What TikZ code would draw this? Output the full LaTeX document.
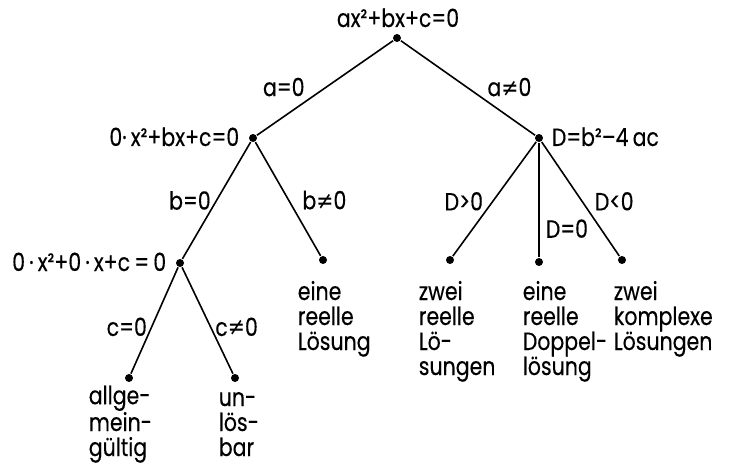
\documentclass[tikz,border=0pt]{standalone}
\usepackage{fontspec}
\setmainfont{Poppins}[FakeStretch=0.82,FakeBold=0.3]
\newfontfamily\symfont{DejaVu Sans}[FakeStretch=0.82]
\newcommand{\ungl}{{\symfont ≠}}

\begin{document}
\begin{tikzpicture}[x=1pt,y=-1pt,line width=1.6pt,
		font=\fontsize{25}{25}\selectfont,
		dot/.style={circle,fill,inner sep=0pt,minimum size=8pt},
		leaf/.style={inner sep=0pt,align=left,anchor=base west}]
		\useasboundingbox (0,0) rectangle (734,468);

		% Knoten
		\draw (397,38) node[dot] (R) {};
		\draw (253,138) node[dot] (L) {};
		\draw (539,138) node[dot] (D) {};
		\draw (180,263) node[dot] (B) {};
		\draw (323,260) node[dot] (Bn) {};
		\draw (450,260) node[dot] (Dp) {};
		\draw (539,262) node[dot] (Dz) {};
		\draw (622,260) node[dot] (Dm) {};
		\draw (129,378) node[dot] (C) {};
		\draw (235,378) node[dot] (Cn) {};

		% Gleichungen
		\draw (398,27) node[inner sep=0pt,anchor=base] {ax²+bx+c=0};
		\draw (240,146) node[inner sep=0pt,anchor=base east] {0·\,x²+bx+c=0};
		\draw (551,146) node[inner sep=0pt,anchor=base west] {D=b²–4\,ac};
		\draw (167,271) node[inner sep=0pt,anchor=base east] {0\,·\,x²+0\,·\,x+c\,=\,0};

		% Ergebnisse (base = letzte Zeile)
		\draw (297,350) node[leaf] {eine\\reelle\\Lösung};
		\draw (418,375) node[leaf] {zwei\\reelle\\Lö-\\sungen};
		\draw (522,375) node[leaf] {eine\\reelle\\Doppel-\\lösung};
		\draw (613,350) node[leaf] {zwei\\komplexe\\Lösungen};
		\draw (88,456) node[leaf] {allge-\\mein-\\gültig};
		\draw (218,456) node[leaf] {un-\\lös-\\bar};

		\path[every node/.style={inner sep=0pt}]
		(R) edge node[pos=.49,anchor=east,xshift=-21] {a=0} (L)
		(R) edge node[pos=.49,anchor=west,xshift=20] {a\ungl0} (D)
		(L) edge node[pos=.5,anchor=east,xshift=-5] {b=0} (B)
		(L) edge node[pos=.51,anchor=west,xshift=13] {b\ungl0} (Bn)
		(D) edge node[pos=.52,anchor=east,xshift=-9] {D>0} (Dp)
		(D) edge node[pos=.75,anchor=west,xshift=6] {D=0} (Dz)
		(D) edge node[pos=.52,anchor=west,xshift=12] {D<0} (Dm)
		(B) edge node[pos=.56,anchor=east,xshift=-4] {c=0} (C)
		(B) edge node[pos=.56,anchor=west,xshift=4] {c\ungl0} (Cn)
		;
	\end{tikzpicture}
\end{document}
